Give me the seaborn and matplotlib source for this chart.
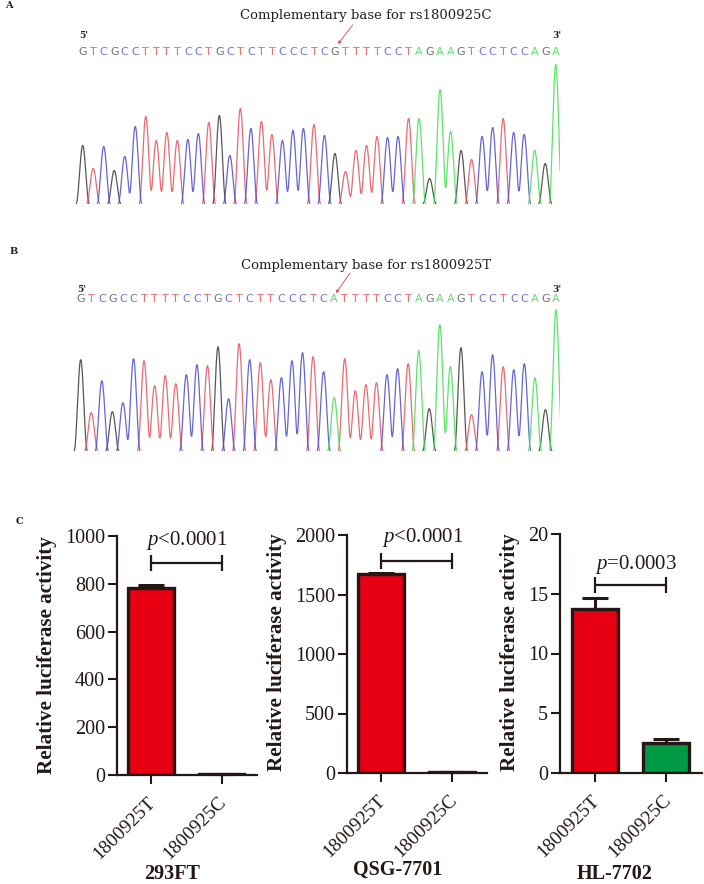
import matplotlib
matplotlib.use('Agg')
import matplotlib.pyplot as plt
from matplotlib.transforms import ScaledTranslation
import numpy as np
import pandas as pd
import seaborn as sns

W, H = 704, 884

sequence_a = 'GTCGCCTTTTCCTGCTCTTCCCTCGTTTTCCTAGAAGTCCTCCAGA'
sequence_b = 'GTCGCCTTTTCCTGCTCTTCCCTCATTTTCCTAGAAGTCCTCCAGA'

peaks_a = [58, 35, 57, 33, 47, 77, 87, 63, 71, 63, 64, 70, 81, 88, 48, 95,
           75, 82, 69, 63, 73, 75, 79, 68, 50, 32, 53, 58, 67, 66, 67, 85,
           85, 25, 114, 72, 53, 44, 67, 76, 85, 71, 69, 53, 40, 139]
peaks_b = [91, 38, 70, 39, 48, 92, 90, 65, 75, 67, 76, 86, 85, 104, 52, 107,
           91, 88, 71, 73, 90, 98, 94, 79, 53, 92, 60, 66, 68, 76, 82, 87,
           100, 42, 126, 84, 103, 36, 79, 96, 84, 81, 87, 73, 41, 141]

groups = ['1800925T', '1800925C']
means_293 = [781, 3]
errs_293 = [12, 2]
means_qsg = [1669, 5]
errs_qsg = [14, 3]
means_hl = [13.72, 2.48]
errs_hl = [0.92, 0.34]

trace_colors = {'G': '#3a3a3a', 'T': '#e8505a', 'C': '#4a4ad0', 'A': '#40e050'}
letter_colors = {'G': '#707070', 'T': '#e86a6a', 'C': '#7070e0', 'A': '#60e070'}
INK = '#231815'

sns.set_theme(style='ticks')
plt.rcParams['font.family'] = ['Liberation Serif', 'DejaVu Serif']
plt.rcParams['mathtext.fontset'] = 'custom'
plt.rcParams['mathtext.it'] = 'Liberation Serif:italic'
plt.rcParams['mathtext.rm'] = 'Liberation Serif'

fig = plt.figure(figsize=(W / 100, H / 100), dpi=100)


def px_axes(left, top, right, bottom):
    return fig.add_axes([left / W, 1 - bottom / H, (right - left) / W, (bottom - top) / H])


def fig_text(x, y, s, **kw):
    fig.text(x / W, 1 - y / H, s, **kw)


def trace_panel(seq, peaks, first, last, base_y, note, note_y, arrow, prime_y, letter_y):
    step = (last - first) / (len(seq) - 1)
    left = first - 0.7 * step
    right = last + 0.42 * step
    ax = px_axes(left, base_y - 150, right, base_y)
    ax.set_xlim(-0.7, len(seq) - 1 + 0.42)
    ax.set_ylim(0, 150)
    ax.axis('off')

    # peak shape only, the heights come from the lists on top
    t = np.linspace(-0.7, len(seq) - 1 + 0.42, 3000)
    half_base = 0.62
    for base in 'GTCA':
        y = np.zeros_like(t)
        for i, (b, h) in enumerate(zip(seq, peaks)):
            if b == base:
                near = np.abs(t - i) < half_base
                y[near] += h * np.cos(np.pi / 2 * (t[near] - i) / half_base) ** 2
        y[y <= 0] = np.nan
        ax.plot(t, y, color=trace_colors[base], lw=0.9, alpha=0.85)

    for i, b in enumerate(seq):
        fig_text(first + i * step, letter_y, b, color=letter_colors[b],
                 family='DejaVu Sans', fontsize=8, ha='center', va='center')

    fig_text(366, note_y, note, family='DejaVu Serif', fontsize=9.5,
             color='#222222', ha='center', va='center')
    fig_text(first + 1, prime_y, "5'", family='DejaVu Serif', fontsize=6.5,
             weight='bold', color='#222222', ha='center', va='center')
    fig_text(557, prime_y, "3'", family='DejaVu Serif', fontsize=6.5,
             weight='bold', color='#222222', ha='center', va='center')

    overlay = px_axes(0, 0, W, H)
    overlay.set_xlim(0, W)
    overlay.set_ylim(H, 0)
    overlay.axis('off')
    overlay.annotate('', xy=arrow[1], xytext=arrow[0],
                     arrowprops=dict(arrowstyle='-|>', color='#e04040', lw=0.6,
                                     mutation_scale=4, shrinkA=0, shrinkB=0))


trace_panel(sequence_a, peaks_a, 82.7, 555.7, 203.5,
            'Complementary base for rs1800925C', 16,
            ((352.7, 25), (338, 44)), 36, 52)
trace_panel(sequence_b, peaks_b, 80.7, 556, 450.7,
            'Complementary base for rs1800925T', 266,
            ((350, 273), (336, 293)), 289, 299)


def bar_panel(box, means, errs, ymax, yticks, bracket_y, p_label, p_x, p_y,
              title, title_x, title_y, label_x, label_y):
    ax = px_axes(*box)
    df = pd.DataFrame({'group': groups, 'value': means})
    sns.barplot(data=df, x='group', y='value', hue='group', ax=ax, width=0.64,
                palette=['#E60012', '#009944'], saturation=1, edgecolor=INK,
                linewidth=2.4, errorbar=None, legend=False)
    ax.errorbar([0, 1], means, yerr=[[0, 0], errs], fmt='none', ecolor=INK,
                elinewidth=2.2, capsize=9.4, capthick=2.2, clip_on=False)
    ax.plot([0, 1], [bracket_y, bracket_y], color=INK, lw=1.6, marker='|',
            ms=11.5, mew=1.6, clip_on=False)

    ax.set_xlim(-0.485, 1.495)
    ax.set_ylim(0, ymax)
    ax.set_yticks(yticks)
    ax.set_xlabel('')
    ax.set_ylabel('')
    ax.tick_params(axis='y', labelsize=14.5, length=6.5, width=1.5, pad=2, colors=INK)
    ax.tick_params(axis='x', labelsize=14, length=6.5, width=1.5, pad=7, colors=INK)
    shift = ScaledTranslation(-4 / 100, 0, fig.dpi_scale_trans)
    for tick in ax.get_xticklabels():
        tick.set_rotation(45)
        tick.set_ha('right')
        tick.set_rotation_mode('anchor')
        tick.set_transform(tick.get_transform() + shift)
    sns.despine(ax=ax)
    ax.spines['left'].set_linewidth(1.6)
    ax.spines['bottom'].set_linewidth(1.6)
    ax.spines['left'].set_color(INK)
    ax.spines['bottom'].set_color(INK)

    fig_text(p_x, p_y, p_label, fontsize=15, color=INK, ha='center', va='baseline')
    fig_text(title_x, title_y, title, fontsize=14.5, weight='bold', color=INK,
             ha='center', va='baseline')
    fig_text(label_x, label_y, 'Relative luciferase activity', fontsize=15.2,
             weight='bold', color=INK, rotation=90, ha='center', va='center')


bar_panel((116.7, 536, 256.7, 775), means_293, errs_293, 1000, [0, 200, 400, 600, 800, 1000],
          887, r'$\mathit{p}$<0.0001', 187, 545, '293FT', 172.5, 879, 46.7, 655)
bar_panel((346.7, 535, 487.3, 773), means_qsg, errs_qsg, 2000, [0, 500, 1000, 1500, 2000],
          1784, r'$\mathit{p}$<0.0001', 423, 542, 'QSG-7701', 397.7, 875, 276.7, 652.5)
bar_panel((560, 534, 701.7, 773), means_hl, errs_hl, 20, [0, 5, 10, 15, 20],
          15.73, r'$\mathit{p}$=0.0003', 636, 569, 'HL-7702', 615, 879, 510, 652.5)

for x, y, s in [(8.5, 6, 'A'), (13.5, 252, 'B'), (19, 521, 'C')]:
    fig_text(x, y, s, family='DejaVu Serif', fontsize=7, weight='bold',
             color='#222222', ha='center', va='center')

fig.savefig('out.png', dpi=100)
